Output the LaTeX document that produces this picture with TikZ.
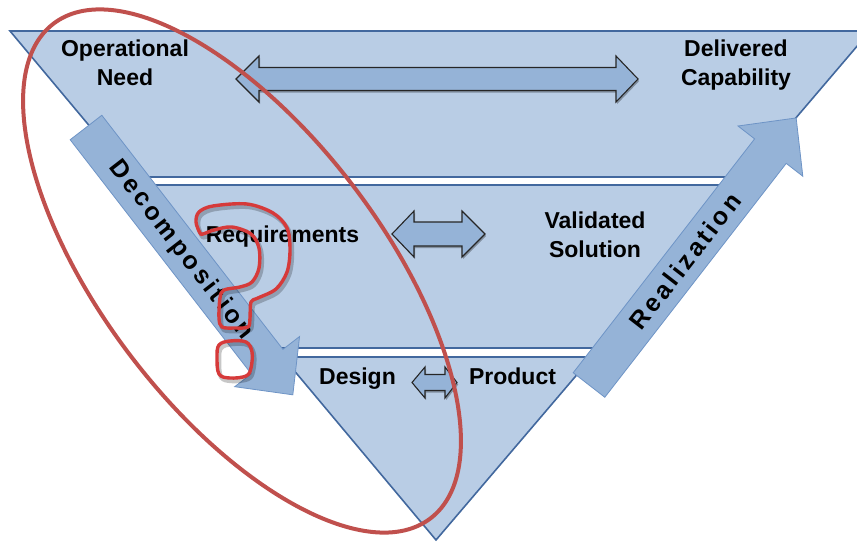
\documentclass[tikz,border=0pt]{standalone}
\usepackage{fontspec}
\setmainfont{Liberation Sans}
\newfontfamily\spacedfont[LetterSpace=13]{Liberation Sans}
\usetikzlibrary{shadows}
\definecolor{bandfill}{RGB}{185,205,229}
\definecolor{bandline}{RGB}{66,104,158}
\definecolor{arrowfill}{RGB}{149,179,215}
\definecolor{arrowline}{RGB}{110,148,198}
\definecolor{redline}{RGB}{192,80,77}
\definecolor{qred}{RGB}{214,58,58}
\begin{document}
\begin{tikzpicture}[x=1pt,y=-1pt,
  band/.style={fill=bandfill, draw=bandline, line width=1.6pt, line join=miter},
  block/.style={fill=arrowfill, draw=arrowline, line width=0.8pt},
  dbl/.style={fill=arrowfill, draw=black!85, line width=1.1pt,
     drop shadow={shadow xshift=1.2pt, shadow yshift=-2pt, opacity=0.3, fill=black}},
  lbl/.style={font=\fontsize{23}{29}\selectfont\bfseries, align=center, inner sep=0pt, anchor=base},
  arrowtext/.style={font=\fontsize{25}{28}\spacedfont\bfseries, inner sep=0pt},
  qmark/.style={draw=qred, line width=3.4pt, line join=round},
  qshadow/.style={draw=black, opacity=0.22, line width=4.5pt, line join=round},
]
\useasboundingbox (0,0) rectangle (857,541);
\clip (0,0) rectangle (857,541);

% bands of the inverted triangle
\draw[band] (10,31) -- (870,31) -- (745.5,177) -- (132.2,177) -- cycle;
\draw[band] (138.9,185) -- (738.7,185) -- (599.7,348) -- (275.3,348) -- cycle;
\draw[band] (282.8,357) -- (592,357) -- (436,540) -- cycle;

% double arrows
\draw[dbl] (236,79) -- (259,56) -- (259,67.5) -- (616,67.5) -- (616,56) -- (638,79)
  -- (616,102) -- (616,90.5) -- (259,90.5) -- (259,102) -- cycle;
\draw[dbl] (392,234) -- (414,211) -- (414,222) -- (462,222) -- (462,211) -- (485,234)
  -- (462,257) -- (462,246) -- (414,246) -- (414,257) -- cycle;
\draw[dbl] (412,382.5) -- (425,367) -- (425,374.5) -- (445,374.5) -- (445,367) -- (457,382.5)
  -- (445,398) -- (445,390.5) -- (425,390.5) -- (425,398) -- cycle;

% labels
\node[lbl] (opneed) at (125,85) {Operational\\Need};
\node[lbl] (delcap) at (736,85) {Delivered\\Capability};
\node[lbl] (req) at (282.5,242) {Requirements};
\node[lbl] (valsol) at (595,257) {Validated\\Solution};
\node[lbl] (design) at (357.5,384) {Design};
\node[lbl] (product) at (512.5,384) {Product};

% block arrows
\begin{scope}[shift={(86,127.5)}, rotate=-52.27]
  \draw[block] (0,-20) -- (296,-20) -- (296,-41) -- (338,0) -- (296,41) -- (296,20) -- (0,20) -- cycle;
\end{scope}
\begin{scope}[shift={(589,385)}, rotate=52.2]
  \draw[block] (0,-20) -- (296,-20) -- (296,-41) -- (338,0) -- (296,41) -- (296,20) -- (0,20) -- cycle;
\end{scope}
\node[arrowtext, rotate=-52.27] (decomp) at (180.9,250.1) {Decomposition};
\node[arrowtext, rotate=52.2] (realiz) at (685.2,261) {Realization};

% question mark
\begin{scope}[shift={(2,3)}]
\draw[qshadow] plot[smooth cycle, tension=0.55] coordinates {(200,233) (196,222) (199,212) (213,206) (247,204) (273,213) (287,228) (290,250) (287,272) (276,289) (258,298) (251,302) (250,318) (248,327) (235,328) (222,327) (219,318) (220,298) (224,290) (240,287) (252,282) (259,268) (259,248) (251,234) (232,227) (214,230) (203,234)};
\draw[qshadow] plot[smooth cycle, tension=0.6] coordinates {(217,357) (219,345) (230,341) (246,342) (252,352) (251,368) (246,376) (230,378) (219,374)};
\end{scope}
\draw[qmark] plot[smooth cycle, tension=0.55] coordinates {(200,233) (196,222) (199,212) (213,206) (247,204) (273,213) (287,228) (290,250) (287,272) (276,289) (258,298) (251,302) (250,318) (248,327) (235,328) (222,327) (219,318) (220,298) (224,290) (240,287) (252,282) (259,268) (259,248) (251,234) (232,227) (214,230) (203,234)};
\draw[qmark] plot[smooth cycle, tension=0.6] coordinates {(217,357) (219,345) (230,341) (246,342) (252,352) (251,368) (246,376) (230,378) (219,374)};

% red ellipse
\begin{scope}[shift={(242,271)}, rotate=-52.7]
  \draw[redline, line width=4pt] (0,0) ellipse [x radius=311, y radius=140];
\end{scope}
\end{tikzpicture}
\end{document}
